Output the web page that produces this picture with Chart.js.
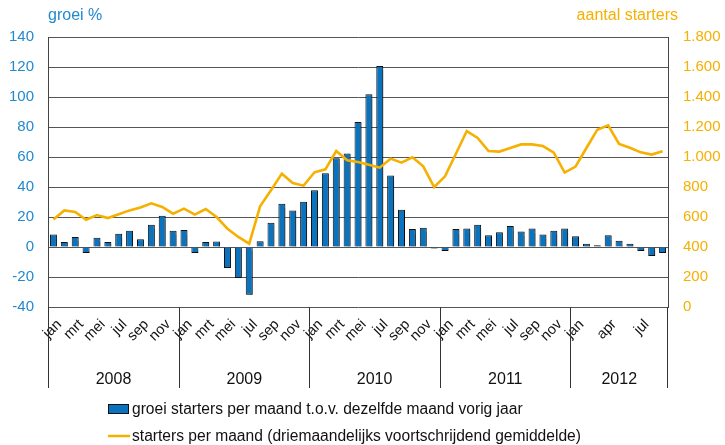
<!DOCTYPE html>
<html>
<head>
<meta charset="utf-8">
<script src="https://cdn.jsdelivr.net/npm/chart.js@4"></script>
<style>
  html, body { margin: 0; padding: 0; background: #fff; }
</style>
</head>
<body>
<canvas id="c" width="725" height="445"></canvas>
<script>
// data
const years = ["2008", "2009", "2010", "2011", "2012"];
const monthsPerYear = [12, 12, 12, 12, 9];
const monthNames = ["jan", "feb", "mrt", "apr", "mei", "jun", "jul", "aug", "sep", "okt", "nov", "dec"];
const shownMonths = ["jan", "mrt", "mei", "jul", "sep", "nov"];
const shownMonthsLast = ["jan", "apr", "jul"];

// groei starters per maand t.o.v. dezelfde maand vorig jaar (%)
const growth = [
  8.4, 3.3, 6.7, -4, 6.2, 3.3, 8.9, 10.9, 5.1, 14.9, 20.9, 10.9,
  11.3, -4, 3.3, 3.6, -14, -20.7, -31.8, 3.8, 16.2, 28.9, 24.4, 30.2,
  37.8, 49.1, 59.1, 62.4, 83.3, 101.8, 120.7, 47.6, 24.9, 12, 12.9, -1,
  -2.7, 12, 12.4, 14.9, 7.8, 9.8, 14, 10.4, 12.4, 8.4, 10.9, 12.4,
  7.1, 2.2, 1.1, 7.8, 4.2, 2.2, -2.7, -6, -4
];

// starters per maand (driemaandelijks voortschrijdend gemiddelde)
const starters = [
  584, 644, 633, 582, 613, 593, 618, 644, 664, 691, 667, 622,
  656, 616, 653, 600, 522, 467, 422, 671, 778, 889, 827, 809,
  898, 918, 1040, 978, 967, 949, 929, 989, 962, 998, 938, 800,
  871, 1022, 1173, 1127, 1040, 1036, 1060, 1084, 1084, 1073, 1029, 896,
  936, 1060, 1182, 1211, 1087, 1062, 1031, 1016, 1038
];

const leftAxis = { min: -40, max: 140, step: 20 };
const rightAxis = { min: 0, max: 1800, step: 200 };

const seriesNames = [
  "groei starters per maand t.o.v. dezelfde maand vorig jaar",
  "starters per maand (driemaandelijks voortschrijdend gemiddelde)"
];
const axisTitles = ["groei %", "aantal starters"];

const BLUE = "#0b73bd";
const BLUE_TXT = "#2089d0";
const ORANGE = "#f5b000";
const FONT = "'Liberation Sans', Arial, sans-serif";

// build labels
const labels = [];
const showTick = [];
years.forEach((y, yi) => {
  for (let m = 0; m < monthsPerYear[yi]; m++) {
    labels.push(monthNames[m] + " " + y);
    const list = yi === years.length - 1 ? shownMonthsLast : shownMonths;
    showTick.push(list.includes(monthNames[m]) ? monthNames[m] : "");
  }
});

function dotThousands(v) {
  return String(v).replace(/\B(?=(\d{3})+(?!\d))/g, ".");
}

// year separators, titles and legend
const decor = {
  id: "decor",
  beforeDatasetDraw(chart, args) {
    if (args.index === 0) {
      const c = chart.ctx;
      c.save();
      c.shadowColor = "rgba(0,0,0,0.35)";
      c.shadowOffsetX = 1.5;
      c.shadowOffsetY = 1;
      c.shadowBlur = 1;
    }
  },
  afterDatasetDraw(chart, args) {
    if (args.index === 0) chart.ctx.restore();
  },
  afterDraw(chart) {
    const { ctx, chartArea: a } = chart;
    const step = (a.right - a.left) / labels.length;
    ctx.save();
    ctx.strokeStyle = "#333";
    ctx.lineWidth = 1;
    ctx.fillStyle = "#111";
    ctx.font = "16px " + FONT;
    ctx.textAlign = "center";
    ctx.textBaseline = "middle";
    let i = 0;
    years.forEach((y, yi) => {
      const x0 = Math.round(a.left + i * step) + 0.5;
      const x1 = a.left + (i + monthsPerYear[yi]) * step;
      ctx.beginPath();
      ctx.moveTo(x0, a.bottom);
      ctx.lineTo(x0, a.bottom + 81);
      ctx.stroke();
      ctx.fillText(y, (x0 + x1) / 2, 380);
      i += monthsPerYear[yi];
    });
    const xe = Math.round(a.right) - 0.5;
    ctx.beginPath();
    ctx.moveTo(xe, a.bottom);
    ctx.lineTo(xe, a.bottom + 81);
    ctx.stroke();

    // axis titles
    ctx.font = "16px " + FONT;
    ctx.textAlign = "left";
    ctx.fillStyle = BLUE_TXT;
    ctx.fillText(axisTitles[0], 48, 16);
    ctx.textAlign = "right";
    ctx.fillStyle = ORANGE;
    ctx.fillText(axisTitles[1], 678, 16);

    // legend
    ctx.textAlign = "left";
    ctx.font = "15.6px " + FONT;
    ctx.fillStyle = BLUE;
    ctx.fillRect(108, 404, 21, 10);
    ctx.strokeStyle = "#111";
    ctx.strokeRect(108.5, 404.5, 20, 9);
    ctx.fillStyle = "#111";
    ctx.fillText(seriesNames[0], 132, 410);
    ctx.strokeStyle = ORANGE;
    ctx.lineWidth = 2.5;
    ctx.beginPath();
    ctx.moveTo(108, 436);
    ctx.lineTo(130, 436);
    ctx.stroke();
    ctx.fillText(seriesNames[1], 132, 437);
    ctx.restore();
  }
};

new Chart(document.getElementById("c"), {
  data: {
    labels: labels,
    datasets: [
      {
        type: "bar",
        label: seriesNames[0],
        data: growth,
        yAxisID: "y",
        backgroundColor: BLUE,
        borderColor: "#111",
        borderWidth: 1,
        barPercentage: 0.64,
        categoryPercentage: 1,
        order: 1
      },
      {
        type: "line",
        label: seriesNames[1],
        data: starters,
        yAxisID: "y1",
        borderColor: ORANGE,
        borderWidth: 2.6,
        pointRadius: 0,
        tension: 0,
        fill: false,
        order: 0
      }
    ]
  },
  options: {
    responsive: false,
    animation: false,
    layout: { padding: { top: 37, left: 0, right: 0, bottom: 0 } },
    plugins: {
      legend: { display: false },
      tooltip: { enabled: false }
    },
    scales: {
      x: {
        offset: true,
        grid: { display: false },
        border: { display: false },
        afterFit: s => { s.height = 138; },
        ticks: {
          autoSkip: false,
          minRotation: 45,
          maxRotation: 45,
          padding: 1,
          labelOffset: 6,
          color: "#111",
          font: { family: FONT, size: 14.5 },
          callback: (v, i) => showTick[i]
        }
      },
      y: {
        position: "left",
        min: leftAxis.min,
        max: leftAxis.max,
        afterFit: s => { s.width = 48; },
        grid: { color: "#555", drawTicks: false },
        border: { display: true, color: "#444" },
        ticks: {
          stepSize: leftAxis.step,
          padding: 14,
          color: BLUE_TXT,
          font: { family: FONT, size: 15 }
        }
      },
      y1: {
        position: "right",
        min: rightAxis.min,
        max: rightAxis.max,
        afterFit: s => { s.width = 57; },
        grid: { display: false, drawTicks: false },
        border: { display: true, color: "#444" },
        ticks: {
          stepSize: rightAxis.step,
          padding: 15,
          color: ORANGE,
          font: { family: FONT, size: 15 },
          callback: v => dotThousands(v)
        }
      }
    }
  },
  plugins: [decor]
});
</script>
</body>
</html>
